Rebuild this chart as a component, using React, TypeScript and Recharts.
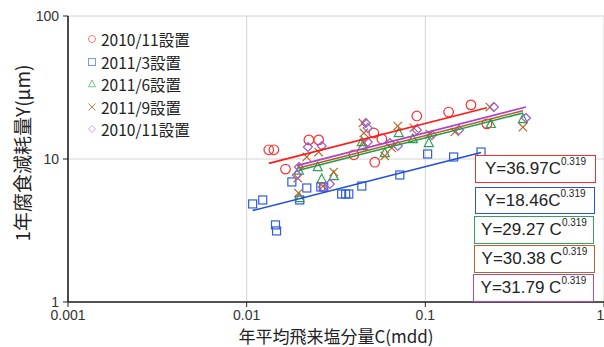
import React from 'react';
import { ScatterChart, Scatter, XAxis, YAxis, CartesianGrid, Label } from 'recharts';

// tick values
const xTicks = [0.001, 0.01, 0.1, 1];
const yTicks = [1, 10, 100];

// series values (C: mdd, Y: μm)
const s2010a = [
  { c: 0.0133, y: 11.6 }, { c: 0.0142, y: 11.6 }, { c: 0.0165, y: 8.5 }, { c: 0.0223, y: 13.6 },
  { c: 0.0253, y: 13.6 }, { c: 0.0398, y: 10.7 }, { c: 0.0515, y: 15.2 }, { c: 0.0521, y: 9.5 },
  { c: 0.0571, y: 13.8 }, { c: 0.0896, y: 20.0 }, { c: 0.135, y: 21.3 }, { c: 0.18, y: 23.9 },
  { c: 0.221, y: 17.6 },
];
const s2011_3 = [
  { c: 0.0108, y: 4.85 }, { c: 0.0123, y: 5.17 }, { c: 0.0145, y: 3.46 }, { c: 0.0147, y: 3.14 },
  { c: 0.0179, y: 6.91 }, { c: 0.0198, y: 5.17 }, { c: 0.0217, y: 6.27 }, { c: 0.026, y: 6.37 },
  { c: 0.027, y: 6.37 }, { c: 0.034, y: 5.69 }, { c: 0.0358, y: 5.69 }, { c: 0.0373, y: 5.69 },
  { c: 0.0441, y: 6.47 }, { c: 0.072, y: 7.73 }, { c: 0.103, y: 10.84 }, { c: 0.144, y: 10.33 },
  { c: 0.205, y: 11.19 },
];
const s2011_6 = [
  { c: 0.0196, y: 8.3 }, { c: 0.025, y: 8.79 }, { c: 0.0263, y: 7.25 }, { c: 0.0307, y: 7.6 },
  { c: 0.0198, y: 5.34 }, { c: 0.0441, y: 13.15 }, { c: 0.0446, y: 12.33 }, { c: 0.0593, y: 11.0 },
  { c: 0.071, y: 15.2 }, { c: 0.0851, y: 13.8 }, { c: 0.1046, y: 12.94 }, { c: 0.2327, y: 17.6 },
  { c: 0.3517, y: 19.04 },
];
const s2011_9 = [
  { c: 0.0193, y: 7.36 }, { c: 0.0195, y: 5.78 }, { c: 0.0217, y: 10.33 }, { c: 0.0253, y: 11.19 },
  { c: 0.0267, y: 6.47 }, { c: 0.0307, y: 8.11 }, { c: 0.0447, y: 17.86 }, { c: 0.0453, y: 15.2 },
  { c: 0.0453, y: 12.94 }, { c: 0.0593, y: 10.5 }, { c: 0.0649, y: 11.94 }, { c: 0.0701, y: 17.0 },
  { c: 0.0862, y: 16.5 }, { c: 0.106, y: 14.95 }, { c: 0.1463, y: 15.45 }, { c: 0.2298, y: 23.1 },
  { c: 0.3517, y: 16.7 },
];
const s2010b = [
  { c: 0.0191, y: 7.73 }, { c: 0.0196, y: 8.79 }, { c: 0.022, y: 12.13 }, { c: 0.0263, y: 12.33 },
  { c: 0.0267, y: 6.37 }, { c: 0.0292, y: 6.69 }, { c: 0.0464, y: 17.86 }, { c: 0.0476, y: 16.5 },
  { c: 0.0476, y: 13.15 }, { c: 0.0633, y: 12.94 }, { c: 0.0701, y: 12.33 }, { c: 0.0896, y: 15.95 },
  { c: 0.1088, y: 14.7 }, { c: 0.1541, y: 15.95 }, { c: 0.2419, y: 23.1 }, { c: 0.3656, y: 19.35 },
];

// fitted line end points
const fit2010a = [{ c: 0.0133, y: 9.32 }, { c: 0.221, y: 22.84 }];
const fit2011_3 = [{ c: 0.0108, y: 4.36 }, { c: 0.205, y: 11.1 }];
const fit2011_6 = [{ c: 0.0196, y: 8.35 }, { c: 0.352, y: 20.98 }];
const fit2011_9 = [{ c: 0.0193, y: 8.62 }, { c: 0.352, y: 21.77 }];
const fit2010b = [{ c: 0.0191, y: 8.99 }, { c: 0.366, y: 23.08 }];

// legend / equation texts
const legendLabels = ['2010/11設置', '2011/3設置', '2011/6設置', '2011/9設置', '2010/11設置'];
const eqMain = ['Y=36.97C', 'Y=18.46C', 'Y=29.27 C', 'Y=30.38 C', 'Y=31.79 C'];
const eqExp = '0.319';

const COL = {
  red: '#ff3030', blue: '#2f5ee0', green: '#2fa050', brown: '#b86a2c', purple: '#9a5ccc',
};
const LINE = {
  red: '#ff1a1a', blue: '#1f4fd6', green: '#229a48', brown: '#b0601e', purple: '#b040c8',
};
const PALE = {
  red: '#f47c7c', blue: '#7f97e6', green: '#6cc68a', brown: '#c0804c', purple: '#c6a6e6',
};

const mk = (kind: string, color: string, s = 4.5, sw = 1.2) => (p: any) => {
  const { cx, cy } = p;
  if (cx == null || cy == null) return <g />;
  if (kind === 'circle') return <circle cx={cx} cy={cy} r={s} fill="none" stroke={color} strokeWidth={sw} />;
  if (kind === 'square') return <rect x={cx - s} y={cy - s} width={2 * s} height={2 * s} fill="none" stroke={color} strokeWidth={sw} />;
  if (kind === 'triangle') return <polygon points={`${cx},${cy - s - 0.5} ${cx + s},${cy + s * 0.8} ${cx - s},${cy + s * 0.8}`} fill="none" stroke={color} strokeWidth={sw} />;
  if (kind === 'x') return (
    <g stroke={color} strokeWidth={sw}>
      <line x1={cx - s} y1={cy - s} x2={cx + s} y2={cy + s} />
      <line x1={cx - s} y1={cy + s} x2={cx + s} y2={cy - s} />
    </g>
  );
  return <polygon points={`${cx},${cy - s} ${cx + s},${cy} ${cx},${cy + s} ${cx - s},${cy}`} fill="none" stroke={color} strokeWidth={sw} />;
};

const noShape = () => <g />;

const JP = '"Noto Sans CJK JP", "Noto Sans", sans-serif';
const NUM = '"Liberation Sans", Arial, sans-serif';

const LegendIcon = ({ kind, color }: { kind: string; color: string }) => {
  const s = 3.5;
  const c = 5;
  return (
    <svg width={10} height={10} style={{ display: 'block' }}>
      {mk(kind, color, s, 1)({ cx: c, cy: c })}
    </svg>
  );
};

const legendKinds = ['circle', 'square', 'triangle', 'x', 'diamond'];
const legendColors = [PALE.red, PALE.blue, PALE.green, PALE.brown, PALE.purple];
const boxColors = ['#ff2b2b', '#2a52d4', '#36a060', '#b0662c', '#b448b8'];
const boxes = [
  { left: 475, top: 155, w: 121, h: 28 },
  { left: 475, top: 187, w: 120, h: 27 },
  { left: 474, top: 216, w: 120, h: 28 },
  { left: 474, top: 245, w: 121, h: 28 },
  { left: 473, top: 274, w: 121, h: 28 },
];

export default function App() {
  return (
    <div style={{ position: 'absolute', left: 0, top: 0, width: 604, height: 347, background: '#fff' }}>
      <ScatterChart width={604} height={347} margin={{ top: 16, right: 0, bottom: 0, left: 0 }}>
        <CartesianGrid stroke="#d4d4d4" strokeWidth={1} />
        <XAxis
          type="number"
          dataKey="c"
          scale="log"
          domain={[0.001, 1]}
          ticks={xTicks}
          tickFormatter={(v: number) => String(v)}
          height={45}
          tickSize={5}
          tickMargin={3}
          axisLine={{ stroke: '#222', strokeWidth: 1.6 }}
          tickLine={{ stroke: '#222' }}
          tick={{ fontSize: 14, fill: '#333', fontFamily: NUM }}
          allowDataOverflow
        >
          <Label
            value="年平均飛来塩分量C(mdd)"
            position="insideBottom"
            offset={4}
            style={{ fontSize: 17, fill: '#222', fontFamily: JP }}
          />
        </XAxis>
        <YAxis
          type="number"
          dataKey="y"
          scale="log"
          domain={[1, 100]}
          ticks={yTicks}
          width={68}
          tickSize={5}
          tickMargin={4}
          axisLine={{ stroke: '#222', strokeWidth: 1.6 }}
          tickLine={{ stroke: '#222' }}
          tick={{ fontSize: 14, fill: '#333', fontFamily: NUM }}
          allowDataOverflow
        >
          <Label
            content={() => (
              <text
                x={21}
                y={153}
                transform="rotate(-90 21 153)"
                textAnchor="middle"
                dominantBaseline="central"
                fontSize={19}
                fill="#222"
                fontFamily={JP}
              >
                1年腐食減耗量Y(μm)
              </text>
            )}
          />
        </YAxis>
        <Scatter data={s2011_3} shape={mk('square', COL.blue, 4)} isAnimationActive={false} />
        <Scatter data={s2010a} shape={mk('circle', COL.red, 4.8)} isAnimationActive={false} />
        <Scatter data={s2011_6} shape={mk('triangle', COL.green, 4.5)} isAnimationActive={false} />
        <Scatter data={s2011_9} shape={mk('x', COL.brown, 4.2)} isAnimationActive={false} />
        <Scatter data={s2010b} shape={mk('diamond', COL.purple, 4.5)} isAnimationActive={false} />
        <Scatter data={fit2010a} shape={noShape} line={{ stroke: LINE.red, strokeWidth: 1.6 }} isAnimationActive={false} />
        <Scatter data={fit2011_3} shape={noShape} line={{ stroke: LINE.blue, strokeWidth: 1.6 }} isAnimationActive={false} />
        <Scatter data={fit2011_6} shape={noShape} line={{ stroke: LINE.green, strokeWidth: 1.6 }} isAnimationActive={false} />
        <Scatter data={fit2011_9} shape={noShape} line={{ stroke: LINE.brown, strokeWidth: 1.6 }} isAnimationActive={false} />
        <Scatter data={fit2010b} shape={noShape} line={{ stroke: LINE.purple, strokeWidth: 1.6 }} isAnimationActive={false} />
      </ScatterChart>

      {/* legend */}
      <div style={{ position: 'absolute', left: 87, top: 28, fontFamily: JP, fontSize: 15.5, color: '#222' }}>
        {legendLabels.map((t, i) => (
          <div key={i} style={{ display: 'flex', alignItems: 'center', height: 22.5 }}>
            <LegendIcon kind={legendKinds[i]} color={legendColors[i]} />
            <span style={{ marginLeft: 4, lineHeight: '22.5px' }}>{t}</span>
          </div>
        ))}
      </div>

      {/* equation boxes */}
      {boxes.map((b, i) => (
        <div
          key={i}
          style={{
            position: 'absolute',
            left: b.left,
            top: b.top,
            width: b.w,
            height: b.h,
            boxSizing: 'border-box',
            border: `1.6px solid ${boxColors[i]}`,
            background: '#fff',
            display: 'flex',
            alignItems: 'center',
            justifyContent: 'center',
            fontFamily: NUM,
            fontSize: 17,
            color: '#222',
            whiteSpace: 'nowrap',
          }}
        >
          <span>
            {eqMain[i]}
            <sup style={{ fontSize: 10, verticalAlign: 'top', position: 'relative', top: -3 }}>{eqExp}</sup>
          </span>
        </div>
      ))}
    </div>
  );
}
